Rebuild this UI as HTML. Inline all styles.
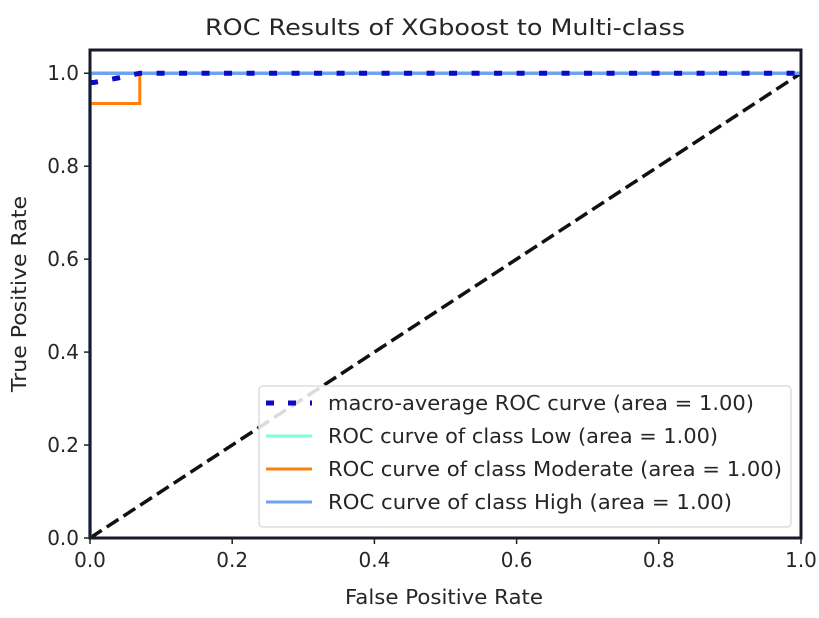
<!DOCTYPE html>
<html><head><meta charset="utf-8"><style>html,body{margin:0;padding:0;background:#fff}svg{display:block}text{font-family:"DejaVu Sans","Liberation Sans",sans-serif;fill:#262626}</style></head>
<body>
<svg id="chart" width="819" height="618" viewBox="0 0 819 618">
<text x="445" y="35" font-size="22" text-anchor="middle" textLength="480" lengthAdjust="spacingAndGlyphs">ROC Results of XGboost to Multi-class</text>
<g id="plot"></g>
<text x="444" y="604" font-size="20" text-anchor="middle" textLength="198" lengthAdjust="spacingAndGlyphs">False Positive Rate</text>
<text x="0" y="0" font-size="20" text-anchor="middle" textLength="196" lengthAdjust="spacingAndGlyphs" transform="translate(26,294) rotate(-90)">True Positive Rate</text>
</svg>
<script>
const xTicks = [0, 0.2, 0.4, 0.6, 0.8, 1.0];
const yTicks = [0, 0.2, 0.4, 0.6, 0.8, 1.0];
const macroFpr = [0, 0.005, 0.04, 0.07, 1];
const macroTpr = [0.98, 0.98, 0.99, 1, 1];
const lowFpr = [0, 0, 1];
const lowTpr = [0, 1, 1];
const modFpr = [0, 0, 0.07, 0.07, 1];
const modTpr = [0, 0.935, 0.935, 1, 1];
const highFpr = [0, 0, 1];
const highTpr = [0, 1, 1];
const legendLabels = ["macro-average ROC curve (area = 1.00)","ROC curve of class Low (area = 1.00)","ROC curve of class Moderate (area = 1.00)","ROC curve of class High (area = 1.00)"];
const legendWidths = [426, 390, 454, 404];

const L=90,R=801,T=50,B=538;
const X=v=>L+(R-L)*v;
const Y=v=>B-(B-T)*v/1.05;
const NS="http://www.w3.org/2000/svg";
const g=document.getElementById('plot');
function mk(t,a,p){const e=document.createElementNS(NS,t);for(const k in a)e.setAttribute(k,a[k]);(p||g).appendChild(e);return e;}
function pts(xs,ys){return xs.map((x,i)=>X(x)+','+Y(ys[i])).join(' ');}

let e;
e=mk('polyline',{points:pts([0,1],[0,1]),fill:'none',stroke:'#111','stroke-width':3.5,'stroke-dasharray':'14,6'});


e=mk('polyline',{points:pts(lowFpr,lowTpr),fill:'none',stroke:'#7fffd4','stroke-width':3});


e=mk('polyline',{points:pts(modFpr,modTpr),fill:'none',stroke:'#ff7f0e','stroke-width':3});


e=mk('polyline',{points:pts(highFpr,highTpr),fill:'none',stroke:'#6fa3ef','stroke-width':3.5});


e=mk('polyline',{points:pts(macroFpr,macroTpr),fill:'none',stroke:'#0a0ac8','stroke-width':5,'stroke-dasharray':'8,14.5'});



e=mk('rect',{x:L,y:T,width:R-L,height:B-T,fill:'none',stroke:'#1a1a2a','stroke-width':3});



xTicks.forEach(v=>{
  mk('line',{x1:X(v),x2:X(v),y1:B,y2:B+6,stroke:'#222','stroke-width':1.5});
  const t=mk('text',{x:X(v),y:B+29,'font-size':20,'text-anchor':'middle'});t.textContent=v.toFixed(1);
  
  
});
yTicks.forEach(v=>{
  mk('line',{x1:L-6,x2:L,y1:Y(v),y2:Y(v),stroke:'#222','stroke-width':1.5});
  const t=mk('text',{x:L-11,y:Y(v)+7,'font-size':20,'text-anchor':'end'});t.textContent=v.toFixed(1);
  
  
});

const lg=mk('g',{});


mk('rect',{x:259,y:386,width:532,height:141,rx:4,fill:'rgba(255,255,255,0.85)',stroke:'#ddd','stroke-width':1.5},lg);
const styles=[{stroke:'#0a0ac8',w:5,d:'8,14'},{stroke:'#7fffd4',w:3},{stroke:'#ff7f0e',w:3},{stroke:'#6fa3ef',w:3}];
const names=['legend-entry-macro','legend-entry-low','legend-entry-moderate','legend-entry-high'];
legendLabels.forEach((lab,i)=>{
  const y=403+i*33;
  const s=styles[i];
  const a={x1:266,x2:312,y1:y,y2:y,stroke:s.stroke,'stroke-width':s.w};
  if(s.d)a['stroke-dasharray']=s.d;
  mk('line',a,lg);
  const t=mk('text',{x:328,y:y+7,'font-size':20,textLength:legendWidths[i],lengthAdjust:'spacingAndGlyphs'},lg);t.textContent=lab;
  
  
});
</script>
</body></html>
